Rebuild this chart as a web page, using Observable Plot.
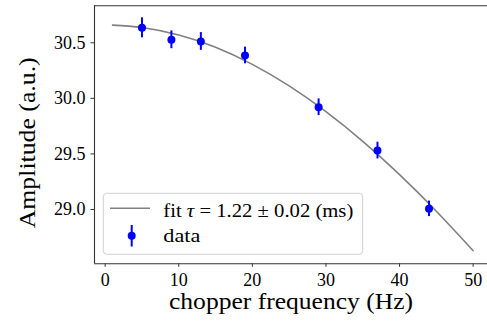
<!DOCTYPE html>
<html>
<head>
<meta charset="utf-8">
<script src="https://cdn.jsdelivr.net/npm/d3@7"></script>
<script src="https://cdn.jsdelivr.net/npm/@observablehq/plot@0.6"></script>
<style>
  html, body { margin: 0; padding: 0; background: white; }
  #chart { width: 487px; height: 322px; overflow: hidden; }
</style>
</head>
<body>
<div id="chart"></div>
<script>
const freq = [5, 9, 13, 19, 29, 37, 44];
const amp = [30.635, 30.527, 30.512, 30.386, 29.92, 29.53, 29.006];
const err = [0.09, 0.08, 0.08, 0.075, 0.075, 0.075, 0.07];
const fitFreq = [1, 5, 10, 15, 20, 25, 30, 35, 40, 45, 50];
const fitAmp = [30.659, 30.637, 30.570, 30.460, 30.306, 30.112, 29.880, 29.613, 29.313, 28.984, 28.629];
const xTicks = [0, 10, 20, 30, 40, 50];
const yTicks = [29.0, 29.5, 30.0, 30.5];
const xDomain = [-1.45, 51.95];
const yDomain = [28.511, 30.833];
const xLabel = "chopper frequency (Hz)";
const yLabel = "Amplitude (a.u.)";
const fitLabel = ["fit ", "τ", " = 1.22 ± 0.02 (ms)"];
const dataLabel = "data";

const points = freq.map((f, i) => ({f, a: amp[i], e: err[i]}));
const fit = fitFreq.map((f, i) => ({f, a: fitAmp[i]}));

const FONT = "'Liberation Serif', 'Times New Roman', serif";
const spine = "#333";

const plot = Plot.plot({
  width: 487,
  height: 322,
  marginLeft: 94,
  marginRight: 0,
  marginTop: 5.3,
  marginBottom: 58.7,
  style: {fontFamily: FONT, fontSize: "18px", color: "black", background: "white", overflow: "visible"},
  x: {domain: xDomain},
  y: {domain: yDomain},
  marks: [
    Plot.line(fit, {x: "f", y: "a", stroke: "#808080", strokeWidth: 1.6, curve: "natural"}),
    Plot.ruleX(points, {x: "f", y1: d => d.a - d.e, y2: d => d.a + d.e, stroke: "#0000ff", strokeWidth: 2}),
    Plot.dot(points, {x: "f", y: "a", r: 4, fill: "#0000ff", stroke: "none"}),
    Plot.ruleY([yDomain[1]], {stroke: spine, strokeWidth: 1.1}),
    Plot.ruleY([yDomain[0]], {stroke: spine, strokeWidth: 1.1}),
    Plot.ruleX([xDomain[0]], {stroke: spine, strokeWidth: 1.1}),
    Plot.axisX({ticks: xTicks, tickSize: 3.5, tickPadding: 6, fontSize: 18, tickFormat: d => String(d), stroke: spine, label: null}),
    Plot.axisY({ticks: yTicks, tickSize: 3.5, tickPadding: 5.5, fontSize: 18, tickFormat: d => d.toFixed(1), stroke: spine, label: null}),
    Plot.text([xLabel], {frameAnchor: "bottom", textAnchor: "middle", lineAnchor: "middle", dy: 38, fontSize: 24, text: d => d, fill: "black"}),
    Plot.text([yLabel], {frameAnchor: "left", textAnchor: "middle", lineAnchor: "middle", dx: -66.7, dy: 8, rotate: -90, fontSize: 24, text: d => d, fill: "black"})
  ]
});

document.getElementById("chart").appendChild(plot);
const svg = d3.select(plot);
svg.selectAll("text").filter(function() { return this.textContent === xLabel; })
  .attr("textLength", 244).attr("lengthAdjust", "spacingAndGlyphs");
svg.selectAll("text").filter(function() { return this.textContent === yLabel; })
  .attr("textLength", 171).attr("lengthAdjust", "spacingAndGlyphs");

// legend (matplotlib-style box)
const lg = svg.append("g").attr("font-family", FONT).attr("font-size", 18).attr("text-anchor", "start");
lg.append("rect").attr("x", 103.3).attr("y", 193.3).attr("width", 259.4).attr("height", 61)
  .attr("rx", 3.5).attr("fill", "white").attr("fill-opacity", 0.8)
  .attr("stroke", "#d0d0d0").attr("stroke-width", 1);
lg.append("line").attr("x1", 110).attr("x2", 150).attr("y1", 208.3).attr("y2", 208.3)
  .attr("stroke", "#808080").attr("stroke-width", 1.6);
const t1 = lg.append("text").attr("x", 163.3).attr("y", 216.5).attr("fill", "black")
  .style("font-family", FONT).style("font-size", "18px")
  .attr("textLength", 190).attr("lengthAdjust", "spacingAndGlyphs");
t1.append("tspan").text(fitLabel[0]);
t1.append("tspan").attr("font-style", "italic").text(fitLabel[1]);
t1.append("tspan").text(fitLabel[2]);
lg.append("line").attr("x1", 131.7).attr("x2", 131.7).attr("y1", 225).attr("y2", 246.5)
  .attr("stroke", "#0000ff").attr("stroke-width", 2);
lg.append("circle").attr("cx", 131.7).attr("cy", 235.7).attr("r", 4).attr("fill", "#0000ff");
lg.append("text").attr("x", 163.3).attr("y", 242.3).attr("fill", "black")
  .style("font-family", FONT).style("font-size", "18px")
  .attr("textLength", 37).attr("lengthAdjust", "spacingAndGlyphs").text(dataLabel);
</script>
</body>
</html>
